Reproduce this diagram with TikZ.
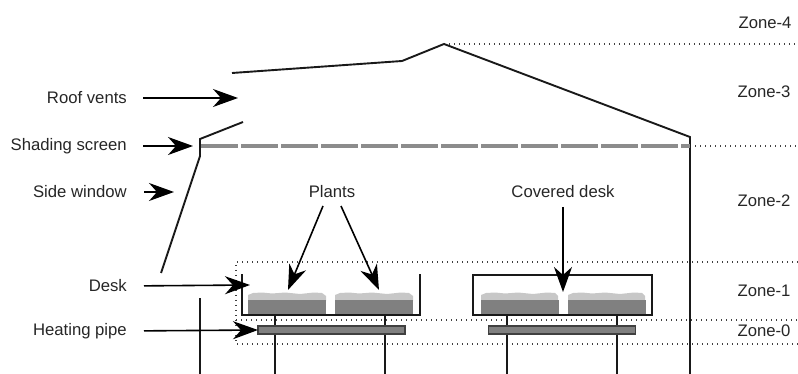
\documentclass[tikz,border=0pt]{standalone}
\usepackage{fontspec}
\setmainfont{Liberation Sans}
\usetikzlibrary{arrows.meta,positioning}

\begin{document}
\begin{tikzpicture}[
    x=1pt, y=-1pt,
    label/.style={inner sep=0pt, font=\fontsize{16.7}{18}\selectfont, text=black!85},
    wall/.style={draw=black!90, line width=1.9pt},
    zoneline/.style={draw=black!75, line width=1.4pt, dash pattern=on 1.3pt off 3.7pt},
    screen/.style={draw=black!45, line width=3.2pt, dash pattern=on 37pt off 3pt},
    arrow/.style={-{Stealth[length=25pt, width=18pt, inset=8pt]}, draw=black, line width=1.6pt},
    pipe/.style={draw=black!75, fill=black!50, line width=1.4pt, minimum width=147pt, minimum height=8pt, inner sep=0pt},
    bed/.style={fill=black!50, minimum width=78pt, minimum height=14pt, inner sep=0pt},
    foliage/.style={fill=black!22}
]
\useasboundingbox (0,0) rectangle (798,374);

% zones
\draw[zoneline] (444,44) -- (798,44);
\draw[zoneline] (690,146) -- (798,146);
\draw[zoneline] (798,262) -- (236,262) -- (236,344) -- (798,344);
\draw[zoneline] (236,320) -- (798,320);

\node[label] (zone4) at (765,23) {Zone-4};
\node[label] (zone3) at (764,92) {Zone-3};
\node[label] (zone2) at (764,201) {Zone-2};
\node[label] (zone1) at (764,291) {Zone-1};
\node[label] (zone0) at (764,331) {Zone-0};

% greenhouse
\draw[wall] (232,73) -- (402,61) -- (444,44) -- (690,137) -- (690,374);
\draw[wall] (243,122) -- (200,139) -- (200,156) -- (161,273);
\draw[wall] (200,298) -- (200,374);
\draw[screen] (201,146) -- (690,146);

% legs
\draw[wall] (275,315) -- (275,374);
\draw[wall] (385,315) -- (385,374);
\draw[wall] (507,315) -- (507,374);
\draw[wall] (617,315) -- (617,374);

% pipes
\node[pipe] (pipeA) at (331.5,330) {};
\node[pipe] (pipeB) at (562,330) {};

% plants
\fill[foliage] (248,301) -- (248,295) -- (253,293) -- (262,292.5) -- (272,293.5) -- (285,292.5) -- (300,294) -- (314,292.5) -- (322,293) -- (326,296) -- (326,301) -- cycle;
\fill[foliage] (335,301) -- (335,295) -- (340,293) -- (349,292.5) -- (359,293.5) -- (372,292.5) -- (387,294) -- (401,292.5) -- (409,293) -- (413,296) -- (413,301) -- cycle;
\fill[foliage] (481,301) -- (481,295) -- (486,293) -- (495,292.5) -- (505,293.5) -- (518,292.5) -- (533,294) -- (547,292.5) -- (555,293) -- (558,296) -- (558,301) -- cycle;
\fill[foliage] (568,301) -- (568,295) -- (573,293) -- (582,292.5) -- (592,293.5) -- (605,292.5) -- (620,294) -- (634,292.5) -- (642,293) -- (645,296) -- (645,301) -- cycle;
\node[bed] (bedA) at (287,307) {};
\node[bed] (bedB) at (374,307) {};
\node[bed] (bedC) at (519.5,307) {};
\node[bed] (bedD) at (606.5,307) {};

% desks
\draw[wall] (242,274) -- (242,315) -- (420,315) -- (420,274);
\draw[wall] (473,275) rectangle (652,315);

% labels
\node[label, anchor=east] (roofvents) at (127,98) {Roof vents};
\node[label, anchor=east] (shading) at (127,146) {Shading screen};
\node[label, anchor=east] (sidewindow) at (127,192) {Side window};
\node[label, anchor=east] (desk) at (127,286) {Desk};
\node[label, anchor=east] (heating) at (127,331) {Heating pipe};
\node[label] (plants) at (332,192) {Plants};
\node[label] (covered) at (563,192) {Covered desk};

\coordinate (roofend) at (238,98);
\coordinate (shadingend) at (193,146);
\coordinate (sideend) at (174,192);
\coordinate (deskend) at (250,285);
\coordinate (heatingend) at (258,330);
\coordinate (plantA) at (288,290);
\coordinate (plantB) at (379,290);
\coordinate (coveredend) at (563,292);

\draw[arrow, shorten <=16pt] (roofvents.east) -- (roofend);
\draw[arrow, shorten <=16pt] (shading.east) -- (shadingend);
\draw[arrow, shorten <=17pt] (sidewindow.east) -- (sideend);
\draw[arrow, shorten <=17pt] (desk.east) -- (deskend);
\draw[arrow, shorten <=17pt] (heating.east) -- (heatingend);
\draw[arrow] (plants) ++(-9,14) -- (plantA);
\draw[arrow] (plants) ++(9,14) -- (plantB);
\draw[arrow] (covered) ++(0,15) -- (coveredend);
\end{tikzpicture}
\end{document}
